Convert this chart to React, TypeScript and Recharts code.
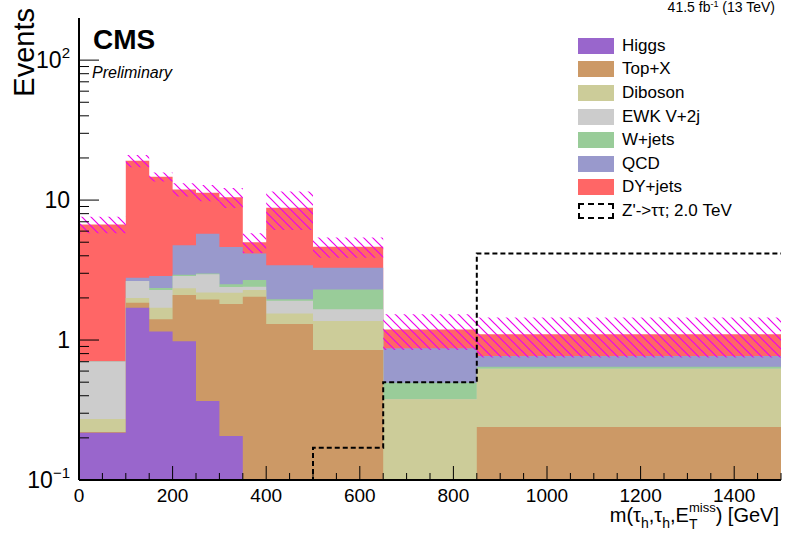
import React from 'react';
import { ComposedChart, Area, Line, XAxis, YAxis } from 'recharts';

// bin edges in GeV, last bin runs to 1500
const binEdges = [0, 100, 150, 200, 250, 300, 350, 400, 500, 650, 850, 1500];

// expected events per bin for each background process
const higgs = [0.218, 1.7, 1.15, 0.98, 0.367, 0.206, 0, 0, 0, 0, 0];
const topX = [0.002, 0.15, 0.26, 1.12, 1.58, 1.6, 2.04, 1.3, 0.85, 0, 0.239];
const diboson = [0.053, 0.15, 0.29, 0.24, 0.24, 0.37, 0.24, 0.25, 0.52, 0.377, 0.385];
const ewkV2j = [0.43, 0.64, 0.58, 0.53, 0.76, 0.22, 0.12, 0.36, 0.29, 0, 0];
const wJets = [0, 0, 0.07, 0.06, 0.04, 0.11, 0.28, 0.05, 0.64, 0.118, 0.021];
const qcd = [0, 0.15, 0.52, 1.82, 2.75, 2.11, 1.48, 1.47, 0.98, 0.378, 0.124];
const dyJets = [6.0, 16.3, 11.8, 7.15, 5.56, 5.88, 0.83, 5.38, 1.36, 0.317, 0.331];

// total background uncertainty per bin
const bkgUnc = [0.9, 1.9, 1.1, 1.3, 1.5, 1.7, 0.8, 2.7, 0.77, 0.34, 0.35];

// Z' -> tautau signal, 2.0 TeV
const zPrime = [0, 0, 0, 0, 0, 0, 0, 0, 0.17, 0.5, 4.16];

const processNames = ['Higgs', 'Top+X', 'Diboson', 'EWK V+2j', 'W+jets', 'QCD', 'DY+jets'];
const processYields = [higgs, topX, diboson, ewkV2j, wJets, qcd, dyJets];
const processColors = ['#9966cc', '#cc9966', '#cccc99', '#cccccc', '#99cc99', '#9999cc', '#ff6666'];
const signalName = "Z'->ττ; 2.0 TeV";

const xMajorTicks = [0, 200, 400, 600, 800, 1000, 1200, 1400];
const xTickLabels = ['0', '200', '400', '600', '800', '1000', '1200', '1400'];
const yMajorTicks = [0.1, 1, 10, 100];
const yTickBase = ['10', '1', '10', '10'];
const yTickExp = ['−1', '', '', '2'];

const Y_MIN = 0.1;
const Y_MAX = 200;
const X_MAX = 1500;

const FONT = '"Liberation Sans", Arial, Helvetica, sans-serif';

const xTicks: number[] = [];
for (let v = 0; v <= X_MAX; v += 50) xTicks.push(v);
const yTicks = yMajorTicks
  .flatMap((d) => [d, ...[2, 3, 4, 5, 6, 7, 8, 9].map((m) => +(d * m).toPrecision(2))])
  .filter((v) => v < Y_MAX);

// one row per bin edge; the last edge repeats the last bin so the step closes
const rows = binEdges.map((x, i) => {
  const b = Math.min(i, binEdges.length - 2);
  const row: Record<string, any> = { x };
  let sum = 0;
  processYields.forEach((vals, k) => {
    sum += vals[b];
    row[`s${k}`] = Math.max(sum, Y_MIN);
  });
  row.band = [Math.max(sum - bkgUnc[b], Y_MIN), sum + bkgUnc[b]];
  row.zprime = Math.max(zPrime[b], Y_MIN);
  return row;
});

const isMajorY = (v: number) => yMajorTicks.includes(v);

const BottomTick = ({ x, y, payload }: any) => {
  const idx = xMajorTicks.indexOf(payload.value);
  const major = idx >= 0;
  return (
    <g>
      <line x1={x} x2={x} y1={y} y2={y - (major ? 14 : 7)} stroke="#000" strokeWidth={1} />
      {major && (
        <text x={x} y={y + 22} textAnchor="middle" fontSize={19} fontFamily={FONT} fill="#000">
          {xTickLabels[idx]}
        </text>
      )}
    </g>
  );
};

const TopTick = ({ x, y, payload }: any) => {
  const major = xMajorTicks.includes(payload.value);
  return <line x1={x} x2={x} y1={y} y2={y + (major ? 14 : 7)} stroke="#000" strokeWidth={1} />;
};

const LeftTick = ({ x, y, payload }: any) => {
  const idx = yMajorTicks.indexOf(payload.value);
  const major = idx >= 0;
  return (
    <g>
      <line x1={x} x2={x + (major ? 20 : 10)} y1={y} y2={y} stroke="#000" strokeWidth={1} />
      {major && (
        <text x={x - 9} y={y + 8} textAnchor="end" fontSize={23} fontFamily={FONT} fill="#000">
          {yTickBase[idx]}
          {yTickExp[idx] && (
            <tspan dy={-10} fontSize={15}>
              {yTickExp[idx]}
            </tspan>
          )}
        </text>
      )}
    </g>
  );
};

const RightTick = ({ x, y, payload }: any) => (
  <line x1={x} x2={x - (isMajorY(payload.value) ? 20 : 10)} y1={y} y2={y} stroke="#000" strokeWidth={1} />
);

const Legend = () => (
  <div
    style={{
      position: 'absolute',
      left: 578,
      top: 34,
      fontFamily: FONT,
      fontSize: 17,
      color: '#000',
    }}
  >
    {processNames.map((name, i) => (
      <div key={name} style={{ display: 'flex', alignItems: 'center', height: 23.6 }}>
        <div style={{ width: 36, height: 16, background: processColors[i] }} />
        <span style={{ marginLeft: 8 }}>{name}</span>
      </div>
    ))}
    <div style={{ display: 'flex', alignItems: 'center', height: 23.6 }}>
      <div style={{ width: 32, height: 12, border: '2px dashed #000' }} />
      <span style={{ marginLeft: 8 }}>{signalName}</span>
    </div>
  </div>
);

export default function App() {
  return (
    <div
      style={{
        position: 'absolute',
        left: 0,
        top: 0,
        width: 785,
        height: 536,
        background: '#fff',
      }}
    >
      <ComposedChart
        width={785}
        height={536}
        data={rows}
        margin={{ top: 18, right: 4, bottom: 0, left: 0 }}
      >
        <defs>
          <pattern id="hatch" patternUnits="userSpaceOnUse" width={9} height={9}>
            <path d="M0,0 L9,9 M-1,8 L1,10 M8,-1 L10,1" stroke="#ee00ee" strokeWidth={1.2} />
          </pattern>
        </defs>

        {processYields
          .map((_, k) => k)
          .reverse()
          .map((k) => (
            <Area
              key={k}
              type="stepAfter"
              dataKey={`s${k}`}
              baseValue={Y_MIN}
              fill={processColors[k]}
              fillOpacity={1}
              stroke="none"
              isAnimationActive={false}
              dot={false}
              activeDot={false}
            />
          ))}
        <Area
          type="stepAfter"
          dataKey="band"
          fill="url(#hatch)"
          fillOpacity={1}
          stroke="none"
          isAnimationActive={false}
          dot={false}
          activeDot={false}
        />
        <Line
          type="stepAfter"
          dataKey="zprime"
          stroke="#000"
          strokeWidth={2}
          strokeDasharray="5 3"
          dot={false}
          activeDot={false}
          isAnimationActive={false}
        />

        <XAxis
          dataKey="x"
          type="number"
          domain={[0, X_MAX]}
          ticks={xTicks}
          interval={0}
          allowDataOverflow
          height={56}
          tickSize={0}
          tickMargin={0}
          tick={<BottomTick />}
          axisLine={{ stroke: '#000', strokeWidth: 2 }}
          tickLine={false}
        />
        <XAxis
          xAxisId="top"
          orientation="top"
          dataKey="x"
          type="number"
          domain={[0, X_MAX]}
          ticks={xTicks}
          interval={0}
          allowDataOverflow
          height={0}
          tickSize={0}
          tickMargin={0}
          tick={<TopTick />}
          axisLine={{ stroke: '#000', strokeWidth: 1.5 }}
          tickLine={false}
        />
        <YAxis
          type="number"
          scale="log"
          domain={[Y_MIN, Y_MAX]}
          ticks={yTicks}
          interval={0}
          allowDataOverflow
          width={79}
          tickSize={0}
          tickMargin={0}
          tick={<LeftTick />}
          axisLine={{ stroke: '#000', strokeWidth: 2 }}
          tickLine={false}
        />
        <YAxis
          yAxisId="right"
          orientation="right"
          type="number"
          scale="log"
          domain={[Y_MIN, Y_MAX]}
          ticks={yTicks}
          interval={0}
          allowDataOverflow
          width={0}
          tickSize={0}
          tickMargin={0}
          tick={<RightTick />}
          axisLine={{ stroke: '#000', strokeWidth: 1.5 }}
          tickLine={false}
        />
      </ComposedChart>

      <svg
        width={785}
        height={536}
        style={{ position: 'absolute', left: 0, top: 0, pointerEvents: 'none' }}
        fontFamily={FONT}
      >
        <text transform="translate(34,8) rotate(-90)" textAnchor="end" fontSize={29} fill="#000">
          Events
        </text>
        <text x={93} y={49} fontSize={28} fontWeight="bold" fill="#000">
          CMS
        </text>
        <text x={92} y={78} fontSize={16} fontStyle="italic" fill="#000">
          Preliminary
        </text>
        <text x={775} y={12} textAnchor="end" fontSize={14} fill="#000">
          41.5 fb
          <tspan dy={-5} fontSize={9}>
            -1
          </tspan>
          <tspan dy={5}> (13 TeV)</tspan>
        </text>
        <text x={779} y={522} textAnchor="end" fontSize={20} fill="#000">
          m(τ
          <tspan dy={6} fontSize={14}>
            h
          </tspan>
          <tspan dy={-6}>,τ</tspan>
          <tspan dy={6} fontSize={14}>
            h
          </tspan>
          <tspan dy={-6}>,E</tspan>
          <tspan dy={7} fontSize={14}>
            T
          </tspan>
          <tspan dx={-8.6} dy={-17} fontSize={13}>
            miss
          </tspan>
          <tspan dy={10}>) [GeV]</tspan>
        </text>
      </svg>

      <Legend />
    </div>
  );
}
